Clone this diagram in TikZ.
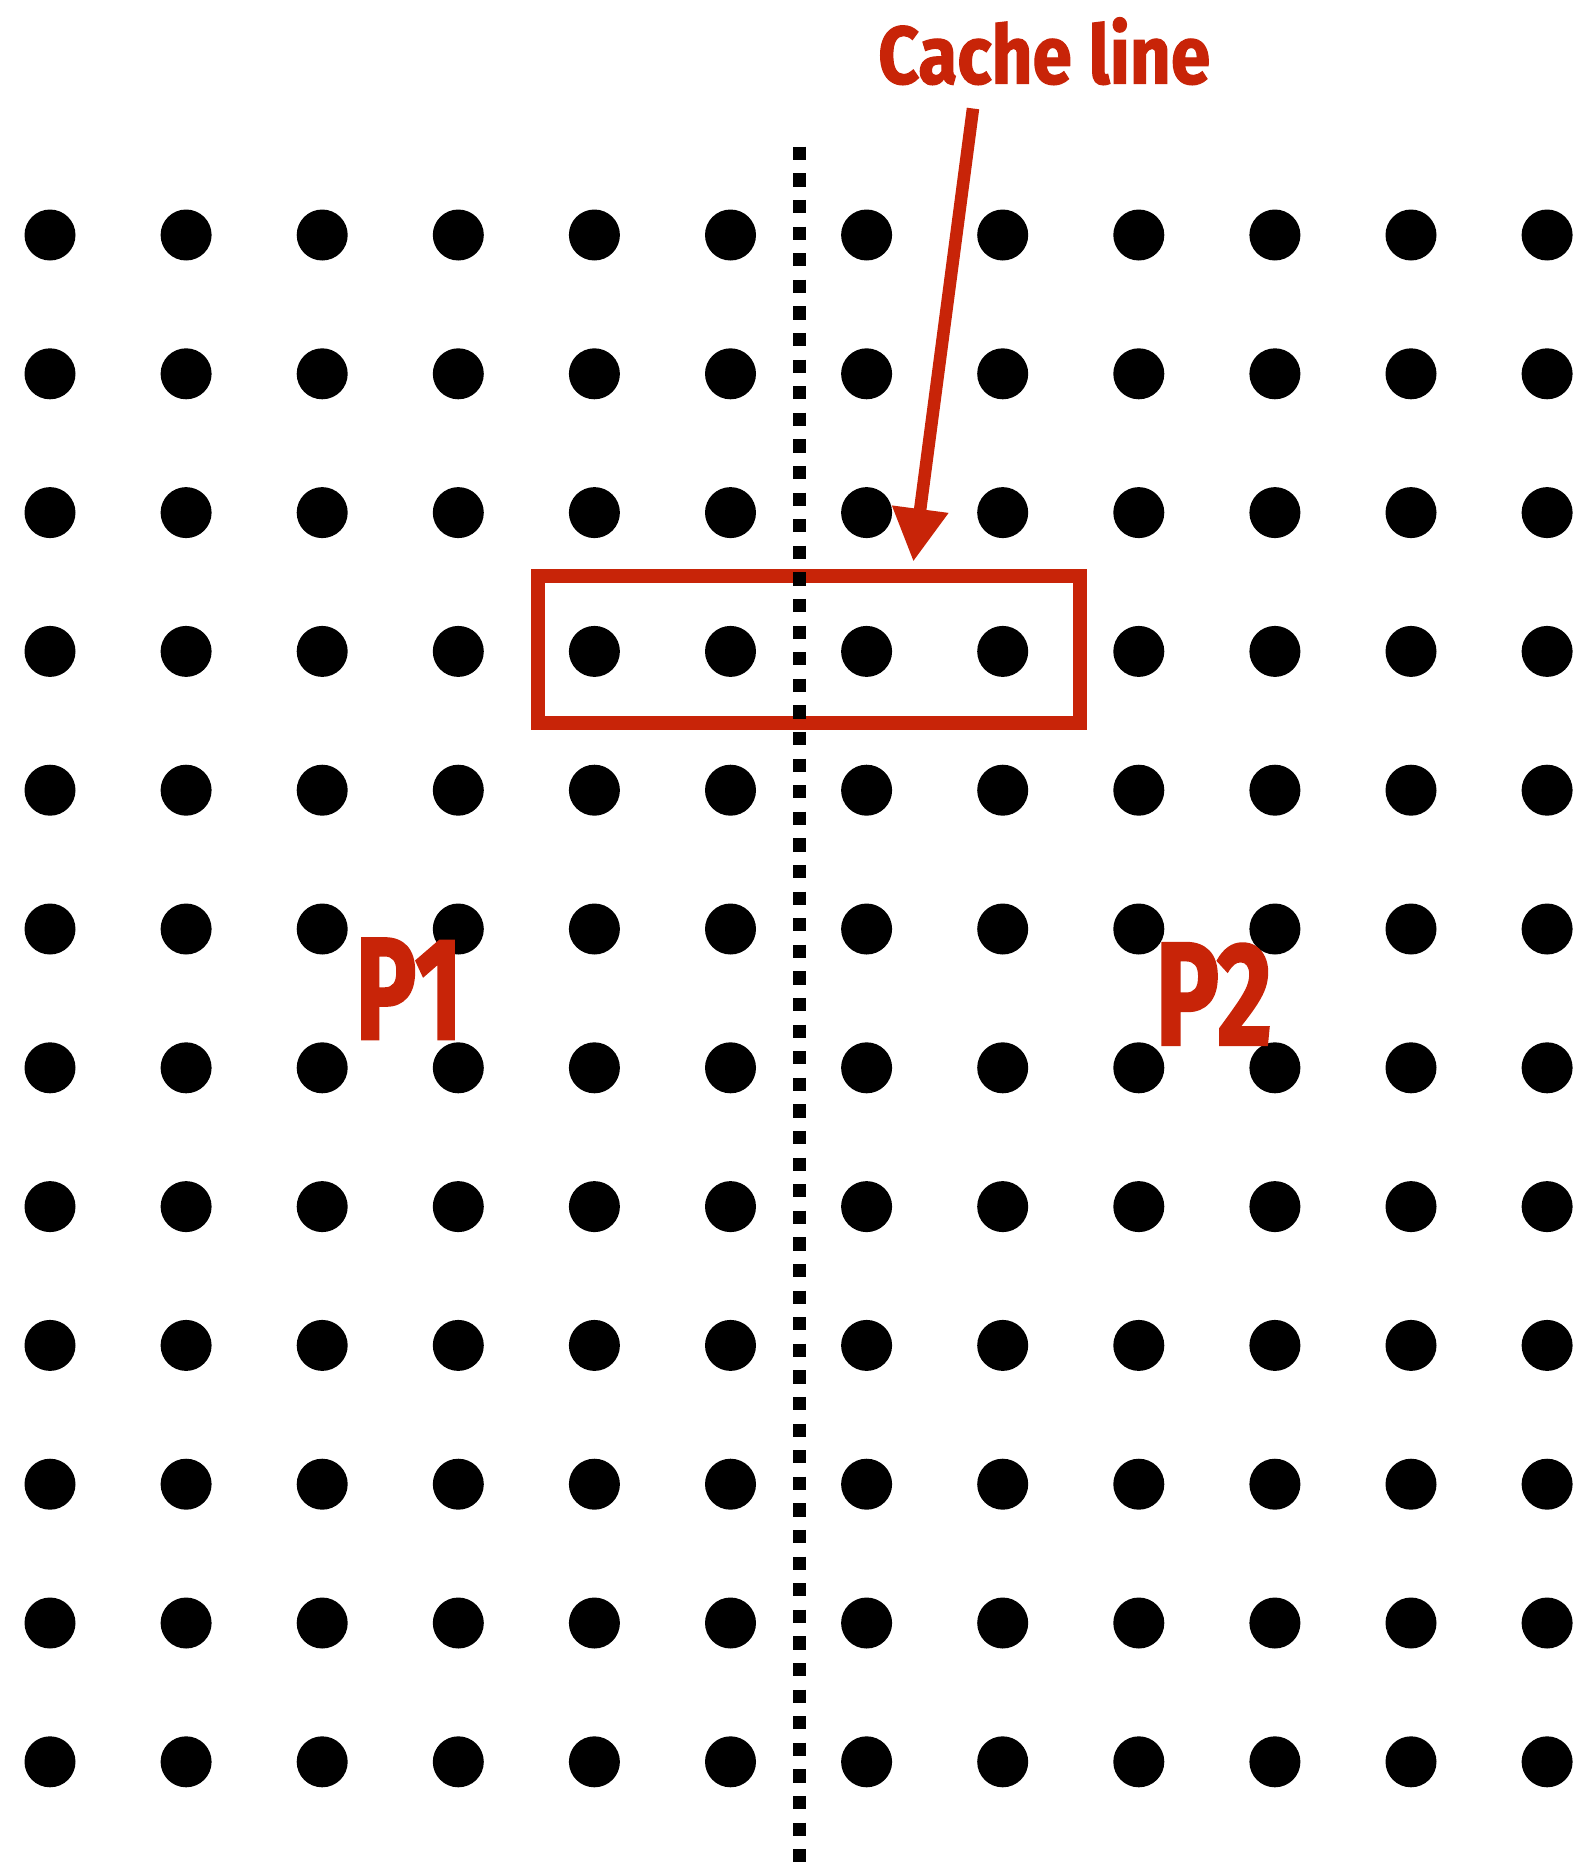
\documentclass[tikz,border=0pt]{standalone}
\usepackage{fontspec}
\setmainfont{Fira Sans}[BoldFeatures={FakeBold=1.6}]
\usetikzlibrary{arrows.meta}
\definecolor{cred}{RGB}{200,36,8}
\begin{document}
\begin{tikzpicture}[x=1pt,y=-1pt,
  dotnode/.style={circle,fill=black,inner sep=0pt,minimum size=51pt},
  redtext/.style={inner sep=0pt,anchor=base west,text=cred,font=\bfseries},
  divider/.style={line width=13pt,dash pattern=on 13.3pt off 13.3pt},
  linebox/.style={draw=cred,line width=14pt,inner sep=0pt,minimum width=542pt,minimum height=146.2pt},
  pointer/.style={draw=cred,line width=12.5pt,-{Triangle[width=53.4pt,length=53pt]}}]
\useasboundingbox (0,0) rectangle (1576,1864);
\fill[white] (0,0) rectangle (1576,1864);
% grid of dots
\foreach \i in {0,...,11}{
  \foreach \j in {0,...,11}{
    \node[dotnode] (d-\i-\j) at ({50+136.1*\i},{235+138.8*\j}) {};
  }
}
% cache line box
\node[linebox] (cacheline) at (809,649.4) {};
% dividing line
\coordinate (divtop) at (799.5,146.7);
\coordinate (divbot) at (799.5,1864);
\draw[divider] (divtop) -- (divbot);
% labels
\node[redtext] (cachelbl) at (878,83.5) {\resizebox{332pt}{66pt}{Cache line}};
\node[redtext] (p1) at (355,1039.3) {\resizebox{107pt}{101pt}{P1}};
\node[redtext] (p2) at (1155,1045) {\resizebox{117pt}{102pt}{P2}};
% arrow
\coordinate (arrstart) at (973,108.5);
\coordinate (arrtip) at (913.3,561.7);
\draw[pointer] (arrstart) -- (arrtip);
\end{tikzpicture}
\end{document}
